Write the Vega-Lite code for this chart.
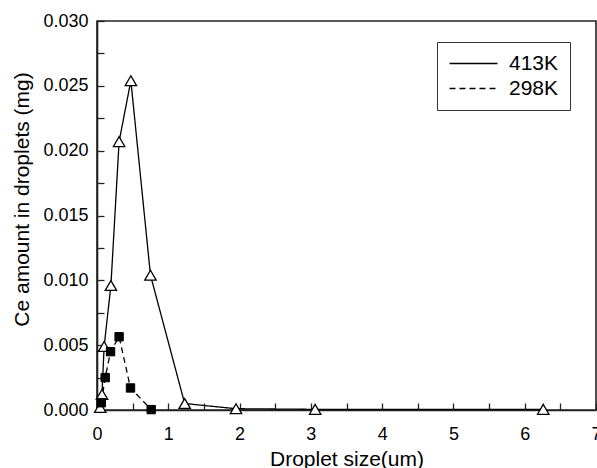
{
  "$schema": "https://vega.github.io/schema/vega-lite/v6.json",
  "width": 499,
  "height": 389,
  "autosize": {"type": "none"},
  "padding": {"left": 97, "top": 21, "right": 1, "bottom": 58},
  "background": "white",
  "config": {
    "view": {"stroke": "#222", "strokeWidth": 1.6},
    "font": "Liberation Sans"
  },
  "data": {
    "values": [
      {"T": "413K", "size": 0.045, "ce": 0.0002},
      {"T": "413K", "size": 0.07, "ce": 0.0012},
      {"T": "413K", "size": 0.10, "ce": 0.0049},
      {"T": "413K", "size": 0.195, "ce": 0.0096},
      {"T": "413K", "size": 0.31, "ce": 0.0207},
      {"T": "413K", "size": 0.475, "ce": 0.0254},
      {"T": "413K", "size": 0.75, "ce": 0.0104},
      {"T": "413K", "size": 1.23, "ce": 0.0005},
      {"T": "413K", "size": 1.95, "ce": 0.0001},
      {"T": "413K", "size": 3.06, "ce": 0.00005},
      {"T": "413K", "size": 6.26, "ce": 0.00005},
      {"T": "298K", "size": 0.06, "ce": 0.00056},
      {"T": "298K", "size": 0.115, "ce": 0.0025},
      {"T": "298K", "size": 0.19, "ce": 0.0045},
      {"T": "298K", "size": 0.31, "ce": 0.00565},
      {"T": "298K", "size": 0.47, "ce": 0.0017},
      {"T": "298K", "size": 0.76, "ce": 0.00003}
    ]
  },
  "encoding": {
    "x": {
      "field": "size",
      "type": "quantitative",
      "scale": {"domain": [0, 7], "nice": false, "zero": false},
      "axis": {
        "title": "Droplet size(um)",
        "values": [0, 0.5, 1, 1.5, 2, 2.5, 3, 3.5, 4, 4.5, 5, 5.5, 6, 6.5, 7],
        "labelExpr": "datum.value % 1 === 0 ? datum.value : ''",
        "grid": false,
        "domainColor": "#222",
        "domainWidth": 1.6,
        "ticks": true,
        "tickColor": "#222",
        "tickWidth": 1.3,
        "tickSize": -7,
        "labelFontSize": 18,
        "labelColor": "black",
        "labelPadding": 22,
        "labelFlush": false,
        "titleFontSize": 21,
        "titleFontWeight": "normal",
        "titleColor": "black",
        "titleBaseline": "alphabetic",
        "titleY": 55
      }
    },
    "y": {
      "field": "ce",
      "type": "quantitative",
      "scale": {"domain": [0, 0.03], "nice": false},
      "axis": {
        "title": "Ce amount in droplets (mg)",
        "values": [0, 0.0025, 0.005, 0.0075, 0.01, 0.0125, 0.015, 0.0175, 0.02, 0.0225, 0.025, 0.0275, 0.03],
        "labelExpr": "abs(datum.value*200 - round(datum.value*200)) < 0.01 ? format(datum.value, '.3f') : ''",
        "grid": false,
        "domainColor": "#222",
        "domainWidth": 1.6,
        "ticks": true,
        "tickColor": "#222",
        "tickWidth": 1.3,
        "tickSize": -7,
        "labelFontSize": 18,
        "labelColor": "black",
        "labelPadding": 16,
        "labelFlush": false,
        "titleFontSize": 21,
        "titleFontWeight": "normal",
        "titleColor": "black",
        "titleAngle": -90,
        "titleBaseline": "middle",
        "titleX": -75,
        "titleY": 178
      }
    }
  },
  "layer": [
    {
      "mark": {"type": "line", "color": "black", "strokeWidth": 1.3},
      "encoding": {
        "strokeDash": {
          "field": "T",
          "type": "nominal",
          "scale": {"domain": ["413K", "298K"], "range": [[1, 0], [6, 4]]},
          "legend": {
            "title": null,
            "orient": "none",
            "legendX": 340,
            "legendY": 21,
            "symbolType": "M-1.125,0L4.875,0",
            "symbolSize": 256,
            "symbolStrokeWidth": 1.3,
            "symbolStrokeColor": "black",
            "labelFontSize": 21,
            "labelColor": "black",
            "labelOffset": 40,
            "rowPadding": 3,
            "padding": 11,
            "strokeColor": "#333",
            "fillColor": "white"
          }
        }
      }
    },
    {
      "transform": [{"filter": "datum.T === '413K'"}],
      "mark": {"type": "point", "shape": "triangle-up", "size": 130, "filled": true, "fill": "white", "stroke": "black", "strokeWidth": 1.3, "opacity": 1}
    },
    {
      "transform": [{"filter": "datum.T === '298K'"}],
      "mark": {"type": "point", "shape": "square", "size": 70, "filled": true, "fill": "black", "stroke": "black", "strokeWidth": 1, "opacity": 1}
    }
  ]
}
